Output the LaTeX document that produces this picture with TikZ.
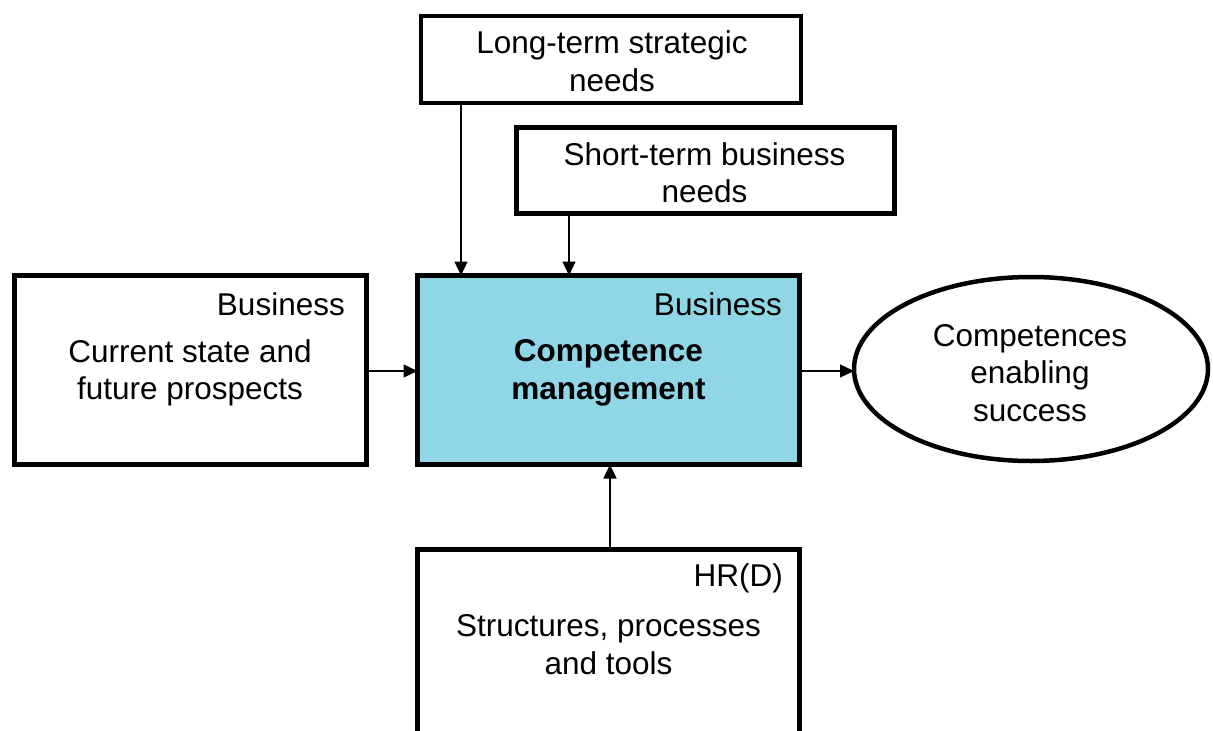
\documentclass[tikz,border=0pt]{standalone}
\usepackage{fontspec}
\setmainfont{Liberation Sans}
\usetikzlibrary{shapes.geometric,arrows.meta}
\definecolor{cmblue}{RGB}{143,214,230}
\tikzset{
  boxnode/.style={draw=black, line width=4.5pt, inner sep=0pt, outer sep=0pt, rectangle},
  ovalnode/.style={draw=black, line width=4.5pt, inner sep=0pt, outer sep=0pt, ellipse},
  txt/.style={font=\fontsize{31.5}{37.5}\selectfont, inner sep=0pt, align=center},
  arr/.style={line width=1.3pt, -{Triangle[length=14pt,width=13pt]}}
}
\begin{document}
\begin{tikzpicture}[x=1pt,y=-1pt]
\useasboundingbox (0,0) rectangle (1213,731);
\fill[white] (0,0) rectangle (1213,731);
% boxes
\node[boxnode, minimum width=380pt, minimum height=87pt] (lt) at (611,59.5) {};
\node[boxnode, minimum width=378pt, minimum height=86pt] (st) at (705.5,170.5) {};
\node[boxnode, minimum width=352pt, minimum height=189pt] (cur) at (190.5,370) {};
\node[boxnode, fill=cmblue, minimum width=382pt, minimum height=189pt] (cm) at (608.5,370) {};
\node[ovalnode, minimum width=354pt, minimum height=184pt] (el) at (1031,369) {};
\node[boxnode, minimum width=382pt, minimum height=240pt] (hr) at (608.5,669.5) {};
% texts
\node[txt] (ltt) at (612,61) {Long-term strategic\\needs};
\node[txt] (stt) at (704.5,172.5) {Short-term business\\needs};
\node[txt, anchor=east] (curb) at (345,304) {Business};
\node[txt] (curt) at (190,373) {Current state and\\future prospects};
\node[txt, anchor=east] (cmb) at (782,304) {Business};
\node[txt, font=\fontsize{31.5}{37.5}\selectfont\bfseries] (cmt) at (608.5,373) {Competence\\management};
\node[txt] (elt) at (1030,373) {Competences\\enabling\\success};
\node[txt, anchor=east] (hrb) at (783,578) {HR(D)};
\node[txt] (hrt) at (608.5,644.5) {Structures, processes\\and tools};
% connector coordinates
\coordinate (xa) at (461,0);
\coordinate (xb) at (569,0);
\coordinate (xc) at (610,0);
\coordinate (ya) at (0,371);
% connectors
\draw[arr] (lt.south -| xa) -- (cm.north -| xa);
\draw[arr] (st.south -| xb) -- (cm.north -| xb);
\draw[arr] (cur.east |- ya) -- (cm.west |- ya);
\draw[arr] (cm.east |- ya) -- (el.west |- ya);
\draw[arr] (hr.north -| xc) -- (cm.south -| xc);
\end{tikzpicture}
\end{document}
